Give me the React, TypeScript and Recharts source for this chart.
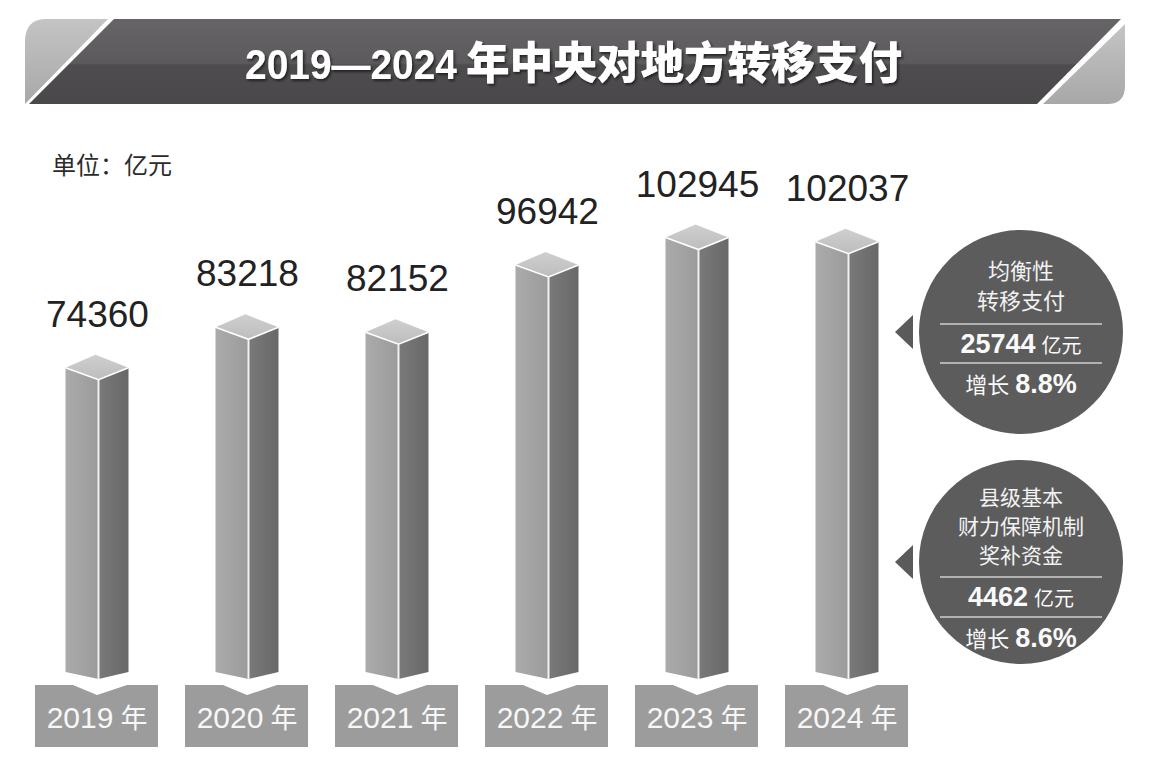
import React from 'react';
import { BarChart, Bar, XAxis, YAxis, LabelList } from 'recharts';

const years = ['2019', '2020', '2021', '2022', '2023', '2024'];
const transfers = [74360, 83218, 82152, 96942, 102945, 102037];
const yearSuffix = '年';

const titleNumbers = '2019—2024';
const titleWords = '年中央对地方转移支付';
const unitLabel = '单位：亿元';

const balanceLines = ['均衡性', '转移支付'];
const balanceAmount = '25744';
const balanceGrowth = '8.8%';

const countyLines = ['县级基本', '财力保障机制', '奖补资金'];
const countyAmount = '4462';
const countyGrowth = '8.6%';

const amountUnit = '亿元';
const growthWord = '增长';

const data = years.map((year, i) => ({ year, value: transfers[i] }));

const CJK = '"Noto Sans CJK SC", sans-serif';
const LATIN = '"Liberation Sans", Arial, sans-serif';

function Pillar(props: any) {
    const { x, y, width, height } = props;
    const cx = x + width / 2;
    const base = y + height;
    const L = cx - 32;
    const R = cx + 31;
    const F = cx + 1;
    const side = base - 21;
    const front = base - 14;
    return (
        <g>
            <polygon points={`${L},${y + 13} ${F},${y + 25} ${F},${front} ${L},${side}`} fill="url(#leftFace)" />
            <polygon points={`${F},${y + 25} ${R},${y + 13} ${R},${side} ${F},${front}`} fill="url(#rightFace)" />
            <polygon points={`${cx - 2},${y} ${R},${y + 13} ${F},${y + 25} ${L},${y + 13}`} fill="url(#capFace)" />
            <polyline points={`${L},${y + 13} ${F},${y + 25} ${R},${y + 13}`} fill="none" stroke="#fff" strokeWidth={1.6} />
            <line x1={F} y1={y + 25} x2={F} y2={front} stroke="#f2f2f2" strokeWidth={2} />
        </g>
    );
}

function YearTick({ x, y, payload }: any) {
    const top = y - 8;
    const left = x - 62;
    const w = 123;
    return (
        <g>
            <path
                d={`M${left},${top} L${x - 24},${top} L${x},${top + 10} L${x + 30},${top} L${left + w},${top} L${left + w},${top + 62} L${left},${top + 62} Z`}
                fill="#9c9c9c"
            />
            <text x={x} y={top + 43} textAnchor="middle" fill="#f7f7f7">
                <tspan fontFamily={LATIN} fontSize={30}>{payload.value}</tspan>
                <tspan fontFamily={CJK} fontSize={27} dx={7}>{yearSuffix}</tspan>
            </text>
        </g>
    );
}

function InfoCircle({ cy, lines, amount, growth, lineTop, lineGap, lineH, fontSize }: any) {
    const cx = 1021;
    const r = 102;
    const firstLine = lineTop - lines.length * lineH + 15;
    return (
        <g>
            <polygon points={`895,${cy} 913,${cy - 17} 913,${cy + 17}`} fill="#5a5a5a" />
            <circle cx={cx} cy={cy} r={r} fill="#5c5c5c" />
            {lines.map((t: string, i: number) => (
                <text key={t} x={cx} y={firstLine + i * lineH} textAnchor="middle" fill="#f2f2f2" fontFamily={CJK} fontSize={fontSize}>
                    {t}
                </text>
            ))}
            <line x1={cx - 81} y1={lineTop} x2={cx + 81} y2={lineTop} stroke="#cfcfcf" strokeWidth={1.5} />
            <text x={cx} y={lineTop + 29} textAnchor="middle" fill="#fafafa">
                <tspan fontFamily={LATIN} fontWeight={700} fontSize={27}>{amount}</tspan>
                <tspan fontFamily={CJK} fontSize={20} dx={6}>{amountUnit}</tspan>
            </text>
            <line x1={cx - 81} y1={lineTop + lineGap} x2={cx + 81} y2={lineTop + lineGap} stroke="#cfcfcf" strokeWidth={1.5} />
            <text x={cx} y={lineTop + lineGap + 30} textAnchor="middle" fill="#fafafa">
                <tspan fontFamily={CJK} fontSize={22}>{growthWord}</tspan>
                <tspan fontFamily={LATIN} fontWeight={700} fontSize={27} dx={6}>{growth}</tspan>
            </text>
        </g>
    );
}

export default function App() {
    return (
        <div style={{ position: 'absolute', left: 0, top: 0, width: 1158, height: 772, background: '#ffffff', overflow: 'hidden' }}>
            <BarChart width={1158} height={772} data={data} margin={{ top: 147, right: 236, left: 22, bottom: 0 }}>
                <defs>
                    <linearGradient id="leftFace" x1="0" y1="0" x2="1" y2="0">
                        <stop offset="0%" stopColor="#ababab" />
                        <stop offset="100%" stopColor="#9b9b9b" />
                    </linearGradient>
                    <linearGradient id="rightFace" x1="0" y1="0" x2="1" y2="0">
                        <stop offset="0%" stopColor="#7a7a7a" />
                        <stop offset="100%" stopColor="#686868" />
                    </linearGradient>
                    <linearGradient id="capFace" x1="0" y1="0" x2="0" y2="1">
                        <stop offset="0%" stopColor="#cfcfcf" />
                        <stop offset="100%" stopColor="#bdbdbd" />
                    </linearGradient>
                </defs>
                <XAxis
                    dataKey="year"
                    height={79}
                    axisLine={false}
                    tickLine={false}
                    tickSize={0}
                    tickMargin={0}
                    interval={0}
                    tick={<YearTick />}
                />
                <YAxis hide domain={[0, 120000]} />
                <Bar dataKey="value" barSize={63} shape={(p: any) => <Pillar {...p} />} isAnimationActive={false}>
                    <LabelList dataKey="value" position="top" offset={28} fill="#222" fontSize={37} fontFamily={LATIN} />
                </Bar>
            </BarChart>

            <svg width={1158} height={772} style={{ position: 'absolute', left: 0, top: 0, pointerEvents: 'none' }}>
                <defs>
                    <linearGradient id="bannerDark" x1="0" y1="0" x2="0" y2="1">
                        <stop offset="0%" stopColor="#666466" />
                        <stop offset="52%" stopColor="#5c5a5c" />
                        <stop offset="54%" stopColor="#4e4c4e" />
                        <stop offset="100%" stopColor="#4a484a" />
                    </linearGradient>
                    <linearGradient id="bannerLight" x1="0" y1="0" x2="0" y2="1">
                        <stop offset="0%" stopColor="#c4c4c4" />
                        <stop offset="100%" stopColor="#a8a8a8" />
                    </linearGradient>
                    <filter id="titleShadow" x="-5%" y="-20%" width="110%" height="150%">
                        <feDropShadow dx={1.5} dy={2} stdDeviation={1.2} floodColor="#1e1e1e" floodOpacity={0.9} />
                    </filter>
                </defs>
                <path d="M108,19 L46,19 Q25,19 25,42 L25,104 Z" fill="url(#bannerLight)" />
                <path d="M114,19 L1121,19 L1037,104 L29,104 Z" fill="url(#bannerDark)" />
                <path d="M1125,24 L1125,86 Q1125,104 1107,104 L1043,104 Z" fill="url(#bannerLight)" />
                <text y={79} fill="#ffffff" fontWeight={700} filter="url(#titleShadow)">
                    <tspan x={245} fontFamily={LATIN} fontSize={42} textLength={212} lengthAdjust="spacingAndGlyphs">
                        {titleNumbers}
                    </tspan>
                    <tspan x={466} fontFamily={CJK} fontWeight={900} fontSize={44} textLength={436} lengthAdjust="spacingAndGlyphs">
                        {titleWords}
                    </tspan>
                </text>

                <text x={52} y={174} fill="#2b2b2b" fontFamily={CJK} fontSize={24}>
                    {unitLabel}
                </text>

                <InfoCircle cy={332} lines={balanceLines} amount={balanceAmount} growth={balanceGrowth} lineTop={324} lineGap={39} lineH={30} fontSize={22} />
                <InfoCircle cy={562} lines={countyLines} amount={countyAmount} growth={countyGrowth} lineTop={577} lineGap={40} lineH={29} fontSize={21} />
            </svg>
        </div>
    );
}
